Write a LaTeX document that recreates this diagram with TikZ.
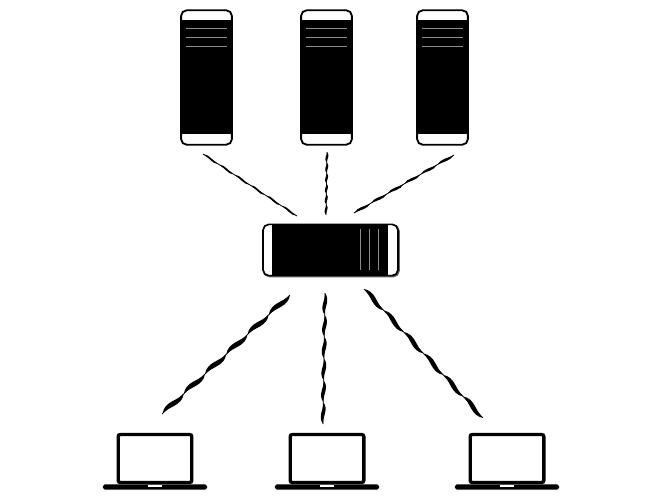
\documentclass[tikz,border=0pt]{standalone}
\usepackage{xcolor}
\usepackage{tikz}
\usetikzlibrary{decorations,shapes.misc}

\pgfdeclaredecoration{twist}{wave}{
  \state{wave}[width=\pgfdecoratedpathlength/6-0.01pt]{
    \pgfpathmoveto{\pgfpointorigin}
    \pgfpathcurveto
      {\pgfpoint{\pgfdecoratedpathlength/18}{\pgfdecorationsegmentamplitude+\pgfdecorationsegmentaspect*1pt}}
      {\pgfpoint{\pgfdecoratedpathlength/9}{-\pgfdecorationsegmentamplitude+\pgfdecorationsegmentaspect*1pt}}
      {\pgfpoint{\pgfdecoratedpathlength/6}{0pt}}
    \pgfpathcurveto
      {\pgfpoint{\pgfdecoratedpathlength/9}{-\pgfdecorationsegmentamplitude-\pgfdecorationsegmentaspect*1pt}}
      {\pgfpoint{\pgfdecoratedpathlength/18}{\pgfdecorationsegmentamplitude-\pgfdecorationsegmentaspect*1pt}}
      {\pgfpointorigin}
    \pgfpathclose
  }
  \state{final}{}
}

\tikzset{
  link/.style 2 args={line width=0.5pt,
    postaction={draw=none,fill=black,decorate,decoration={twist,amplitude=#1,aspect=#2}}},
  serverbox/.style={draw,line width=1.3pt,rounded corners=4pt,fill=white,
    minimum width=1.27cm,minimum height=3.36cm,inner sep=0pt},
  serverfront/.style={fill=black,minimum width=1.27cm,minimum height=2.85cm,inner sep=0pt},
  hubbox/.style={draw,line width=1.2pt,rounded corners=4pt,fill=white,
    minimum width=3.37cm,minimum height=1.28cm,inner sep=0pt},
  hubfront/.style={fill=black,minimum width=2.9cm,minimum height=1.3cm,inner sep=0pt},
  screenbox/.style={draw,line width=2.4pt,rounded corners=1.5pt,fill=white,
    minimum width=1.84cm,minimum height=1.2cm,inner sep=0pt},
  basebar/.style={fill=black,rounded corners=1.2pt,minimum width=2.6cm,minimum height=0.13cm,inner sep=0pt},
  basenotch/.style={fill=white,minimum width=0.35cm,minimum height=0.05cm,inner sep=0pt},
  slot/.style={line width=0.7pt,color=black!45}
}

\begin{document}
\begin{tikzpicture}[x=0.025cm,y=-0.025cm]
    \useasboundingbox (0,0) rectangle (665,500);
    \foreach \sx/\sname in {206.5/srvA,326.5/srvB,442.5/srvC}{
      \node[serverbox] (\sname) at (\sx,77.5) {};
      \node[serverfront] (\sname front) at (\sx,77) {};
      \foreach \sy in {28,37,46}
        \draw[slot] (\sx-20.5,\sy) -- (\sx+20.5,\sy);
    }
    \node[hubbox,draw=black!60] (hubshade) at (331.5,251) {};
    \node[hubbox] (hub) at (330.5,250) {};
    \node[hubfront] (hubfront) at (330,250) {};
    \foreach \hx in {360,369.5,378}
      \draw[slot] (\hx,229) -- (\hx,270);
    \foreach \lx/\lname in {155/lapA,327/lapB,507/lapC}{
      \node[screenbox] (\lname) at (\lx,458.5) {};
      \node[basebar] (\lname base) at (\lx,487) {};
      \node[basenotch] (\lname notch) at (\lx,486) {};
    }
    \coordinate (srvAout) at (203,154);
    \coordinate (hubinA) at (297,216);
    \coordinate (srvBout) at (327,152);
    \coordinate (hubinB) at (326,215);
    \coordinate (hubinC) at (354,213);
    \coordinate (srvCout) at (454,155);
    \coordinate (huboutA) at (290,295);
    \coordinate (lapAin) at (162,414);
    \coordinate (huboutB) at (325,293);
    \coordinate (lapBin) at (323,424);
    \coordinate (huboutC) at (364,289);
    \coordinate (lapCin) at (483,418);
    \draw[link={1.6pt}{0.9}] (srvAout) -- (hubinA);
    \draw[link={1.4pt}{1.2}] (srvBout) -- (hubinB);
    \draw[link={1.2pt}{1.3}] (hubinC) -- (srvCout);
    \draw[link={3pt}{2.4}] (huboutA) -- (lapAin);
    \draw[link={2.2pt}{1.8}] (huboutB) -- (lapBin);
    \draw[link={3pt}{2.2}] (huboutC) -- (lapCin);
  \end{tikzpicture}
\end{document}
